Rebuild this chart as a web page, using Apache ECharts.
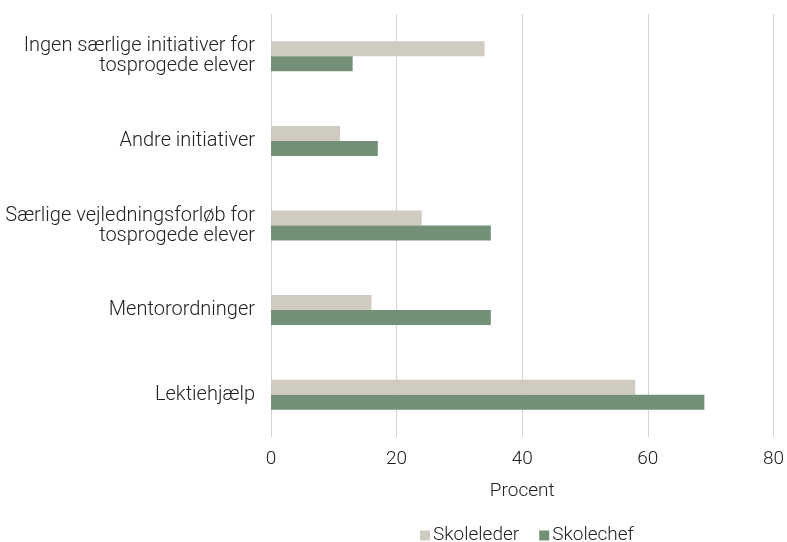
<!DOCTYPE html>
<html>
<head>
<meta charset="utf-8">
<script src="https://cdn.jsdelivr.net/npm/echarts@6/dist/echarts.min.js"></script>
<style>html,body{margin:0;padding:0;background:#fff;}#c{width:787px;height:542px;}</style>
</head>
<body>
<div id="c"></div>
<script>
const categories = [
  "Ingen særlige initiativer for\ntosprogede elever",
  "Andre initiativer",
  "Særlige vejledningsforløb for\ntosprogede elever",
  "Mentorordninger",
  "Lektiehjælp"
];
const skoleleder = [34, 11, 24, 16, 58];
const skolechef = [13, 17, 35, 35, 69];
const xTicks = [0, 20, 40, 60, 80];

const FONT = 'Roboto';
const W = 300;
const chart = echarts.init(document.getElementById('c'), null, {renderer: 'canvas'});
chart.setOption({
  animation: false,
  backgroundColor: '#ffffff',
  textStyle: {fontFamily: FONT},
  grid: {left: 271, right: 11, top: 14, bottom: 105, containLabel: false},
  legend: {
    data: ['Skoleleder', 'Skolechef'],
    left: 415,
    top: 521,
    itemWidth: 10,
    itemHeight: 10,
    itemGap: 20,
    icon: 'rect',
    textStyle: {fontFamily: FONT, fontWeight: W, fontSize: 19, color: '#222', padding: [0, 0, 0, -2]}
  },
  xAxis: {
    type: 'value',
    min: xTicks[0],
    max: xTicks[xTicks.length - 1],
    interval: 20,
    name: 'Procent',
    nameLocation: 'middle',
    nameGap: 45,
    nameTextStyle: {fontFamily: FONT, fontWeight: W, fontSize: 19, color: '#222'},
    axisLine: {show: false},
    axisTick: {show: false},
    axisLabel: {fontFamily: FONT, fontWeight: W, fontSize: 19, color: '#222', margin: 13},
    splitLine: {show: true, lineStyle: {color: '#d4d4d4', width: 1}}
  },
  yAxis: {
    type: 'category',
    data: categories,
    inverse: true,
    axisLine: {show: false},
    axisTick: {show: false},
    axisLabel: {fontFamily: FONT, fontWeight: W, fontSize: 20, color: '#222', margin: 16, lineHeight: 20, align: 'right'}
  },
  series: [
    {name: 'Skoleleder', type: 'bar', data: skoleleder, barWidth: 15, barGap: '0%', itemStyle: {color: '#cfcbc0'}},
    {name: 'Skolechef', type: 'bar', data: skolechef, barWidth: 15, barGap: '0%', itemStyle: {color: '#738f76'}}
  ]
});
</script>
</body>
</html>
